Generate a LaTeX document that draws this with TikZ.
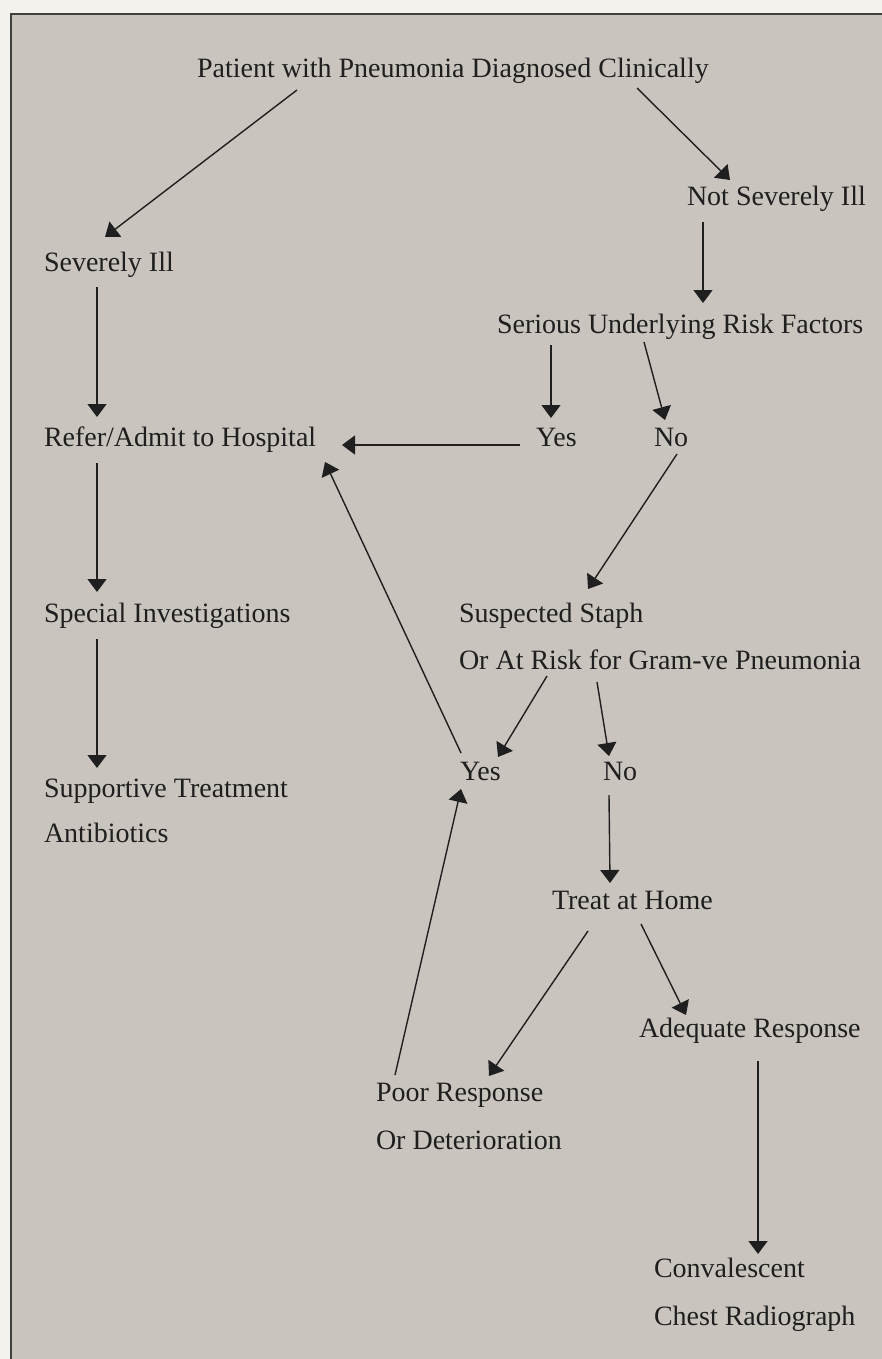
\documentclass[tikz,border=0pt]{standalone}
\usepackage{fontspec}
\setmainfont{Liberation Serif}
\usetikzlibrary{calc,arrows.meta}
\definecolor{paper}{HTML}{F4F2EC}
\definecolor{panel}{HTML}{C9C5BE}
\definecolor{ink}{HTML}{1F1F1F}
\begin{document}
\begin{tikzpicture}[x=0.5pt,y=-0.5pt,
  lbl/.style={anchor=base west,inner sep=0pt,outer sep=0pt,text=ink,
    font=\fontsize{14}{16}\selectfont},
  arr/.style={draw=ink,line width=0.7pt,-{Triangle[length=6.5pt,width=9.5pt]}}]
\useasboundingbox (0,0) rectangle (882,1359);
\fill[paper] (0,0) rectangle (882,1359);
\fill[panel] (11,14) rectangle (882,1359);
\draw[ink!85,line width=0.8pt] (11,1359) -- (11,14) -- (882,14);
% nodes
\node[lbl] (pat) at (197,78) {Patient with Pneumonia Diagnosed Clinically};
\node[lbl] (nsi) at (687,205) {Not Severely Ill};
\node[lbl] (si) at (44,271) {Severely Ill};
\node[lbl] (surf) at (497,333) {Serious Underlying Risk Factors};
\node[lbl] (ref) at (44,446) {Refer/Admit to Hospital};
\node[lbl] (yesA) at (536,446) {Yes};
\node[lbl] (noA) at (654,446) {No};
\node[lbl] (spec) at (44,622) {Special Investigations};
\node[lbl] (staph) at (459,622) {Suspected Staph};
\node[lbl] (risk) at (459,669) {Or At Risk for Gram-ve Pneumonia};
\node[lbl] (yesB) at (460,780) {Yes};
\node[lbl] (noB) at (603,780) {No};
\node[lbl] (supp) at (44,797) {Supportive Treatment};
\node[lbl] (anti) at (44,842) {Antibiotics};
\node[lbl] (home) at (552,909) {Treat at Home};
\node[lbl] (adeq) at (639,1037) {Adequate Response};
\node[lbl] (poor) at (376,1101) {Poor Response};
\node[lbl] (det) at (376,1149) {Or Deterioration};
\node[lbl] (conv) at (654,1277) {Convalescent};
\node[lbl] (chest) at (654,1325) {Chest Radiograph};
% connectors
\draw[arr] ($(pat.base west)+(100,12)$) -- ($(si.base west)+(61,-34)$);
\draw[arr] ($(pat.base west)+(440,10)$) -- ($(nsi.base west)+(43,-25)$);
\draw[arr] ($(nsi.base west)+(16,17)$) -- ($(surf.base west)+(206,-30)$);
\draw[arr] ($(si.base west)+(53,16)$) -- ($(ref.base west)+(53,-29)$);
\draw[arr] ($(surf.base west)+(54,12)$) -- ($(yesA.base west)+(15,-28)$);
\draw[arr] ($(surf.base west)+(147,9)$) -- ($(noA.base west)+(11,-26)$);
\draw[arr] ($(yesA.base west)+(-16,-1)$) -- ($(ref.base west)+(298,-1)$);
\draw[arr] ($(ref.base west)+(53,17)$) -- ($(spec.base west)+(53,-30)$);
\draw[arr] ($(noA.base west)+(23,8)$) -- ($(staph.base west)+(129,-33)$);
\draw[arr] ($(yesB.base west)+(1,-27)$) -- ($(ref.base west)+(281,16)$);
\draw[arr] ($(spec.base west)+(53,17)$) -- ($(supp.base west)+(53,-29)$);
\draw[arr] ($(risk.base west)+(88,7)$) -- ($(yesB.base west)+(38,-23)$);
\draw[arr] ($(risk.base west)+(138,13)$) -- ($(noB.base west)+(6,-24)$);
\draw[arr] ($(poor.base west)+(19,-26)$) -- ($(yesB.base west)+(1,9)$);
\draw[arr] ($(noB.base west)+(6,15)$) -- ($(home.base west)+(58,-26)$);
\draw[arr] ($(home.base west)+(36,22)$) -- ($(poor.base west)+(113,-25)$);
\draw[arr] ($(home.base west)+(89,15)$) -- ($(adeq.base west)+(47,-22)$);
\draw[arr] ($(adeq.base west)+(119,24)$) -- ($(conv.base west)+(104,-23)$);
\end{tikzpicture}
\end{document}
